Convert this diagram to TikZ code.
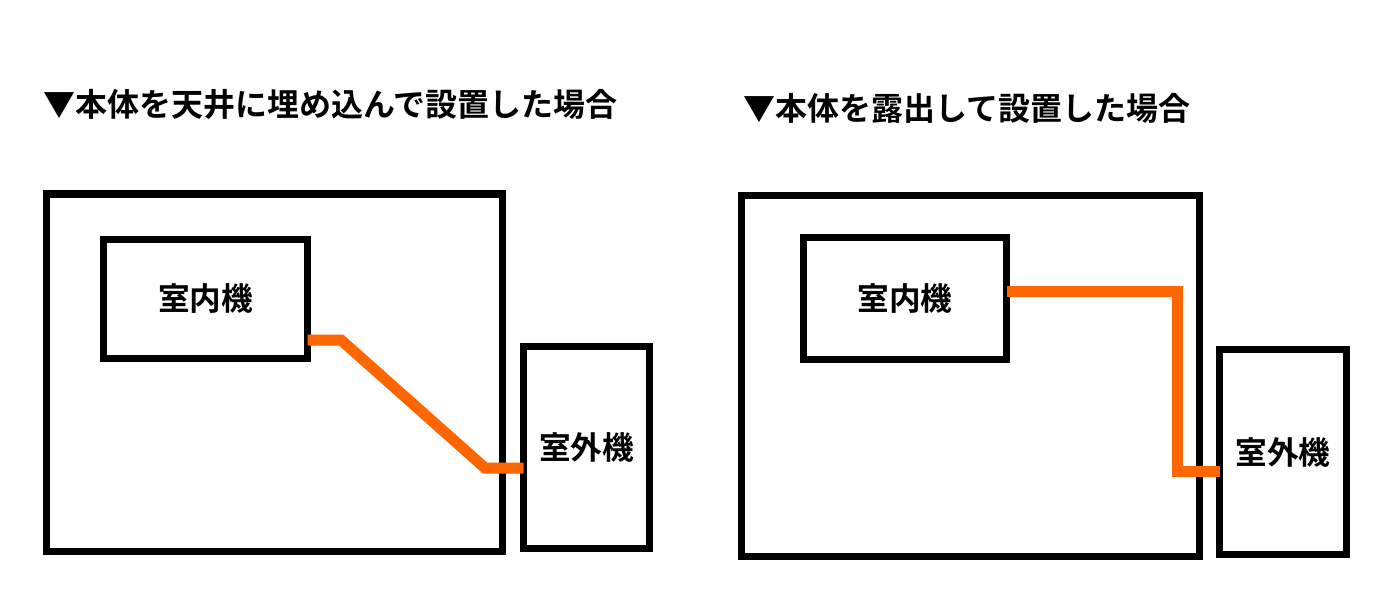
\documentclass[tikz,border=0pt]{standalone}
\usepackage{fontspec}
\newfontfamily\jpfont{Noto Sans CJK JP}[BoldFont={* Bold}]
\usetikzlibrary{positioning}
\definecolor{pipeorange}{HTML}{FF6600}

\begin{document}
\begin{tikzpicture}
  \tikzset{RoomStyle/.style = {shape        = rectangle,
                               draw         = black,
                               line width   = 0.07cm,
                               inner sep    = 0pt,
                               outer sep    = 0pt},
           UnitStyle/.style = {RoomStyle, font=\jpfont\bfseries\fontsize{9}{9}\selectfont},
           TitleStyle/.style = {anchor=west, inner sep=0pt, font=\jpfont\bfseries\fontsize{9.1}{9.1}\selectfont},
           PipeStyle/.style = {draw=pipeorange, line width=0.11cm, line join=miter}}
  \useasboundingbox (0,0) rectangle (14,6);
  %%% LEFT: BUILT INTO THE CEILING %%%
  \node[TitleStyle] (titleL) at (0.43,4.96) {▼本体を天井に埋め込んで設置した場合};
  \node[RoomStyle, minimum width=4.56cm, minimum height=3.57cm] (roomL) at (2.745,2.275) {};
  \node[UnitStyle, minimum width=2.04cm, minimum height=1.19cm] (inL) at (2.055,3.01) {室内機};
  \node[UnitStyle, minimum width=1.26cm, minimum height=2.02cm] (outL) at (5.865,1.525) {室外機};
  \coordinate (pL1) at (3.41,2.60);
  \coordinate (pL2) at (4.85,1.32);
  \draw[PipeStyle] (pL1 -| inL.east) -- (pL1) -- (pL2) -- (pL2 -| outL.west);
  %%% RIGHT: EXPOSED %%%
  \node[TitleStyle] (titleR) at (7.43,4.92) {▼本体を露出して設置した場合};
  \node[RoomStyle, minimum width=4.58cm, minimum height=3.60cm] (roomR) at (9.705,2.24) {};
  \node[UnitStyle, minimum width=2.03cm, minimum height=1.22cm] (inR) at (9.05,3.015) {室内機};
  \node[UnitStyle, minimum width=1.27cm, minimum height=2.05cm] (outR) at (12.83,1.48) {室外機};
  \coordinate (pR1) at (11.775,3.083);
  \coordinate (pR2) at (11.775,1.29);
  \draw[PipeStyle] (pR1 -| inR.east) -- (pR1) -- (pR2) -- (pR2 -| outR.west);
\end{tikzpicture}
\end{document}
